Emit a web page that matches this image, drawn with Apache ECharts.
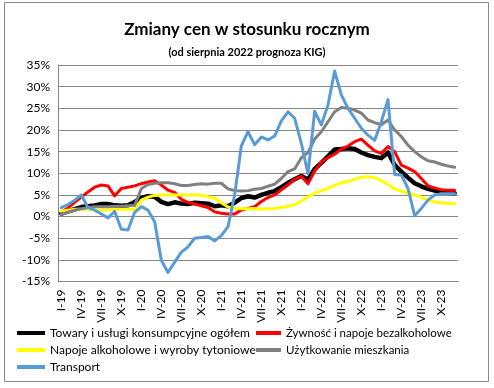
<!DOCTYPE html>
<html>
<head>
<meta charset="utf-8">
<script src="https://cdn.jsdelivr.net/npm/echarts@6/dist/echarts.min.js"></script>
<style>
html,body{margin:0;padding:0;background:#fff;}
#chart{width:494px;height:388px;}
</style>
</head>
<body>
<div id="chart"></div>
<script>
// Categories: monthly I-19 .. XII-23
const romans = ['I','II','III','IV','V','VI','VII','VIII','IX','X','XI','XII'];
const years = ['19','20','21','22','23'];
const categories = [];
years.forEach(y => romans.forEach(m => categories.push(m + '-' + y)));

const seriesNames = [
  'Towary i usługi konsumpcyjne ogółem',
  'Żywność i napoje bezalkoholowe',
  'Napoje alkoholowe i wyroby tytoniowe',
  'Użytkowanie mieszkania',
  'Transport'
];

const total = [
  0.7,1.2,1.7,2.2,2.4,2.6,2.9,2.9,2.6,2.5,2.6,3.4,
  4.3,4.7,4.6,3.4,2.9,3.3,3.0,2.9,3.2,3.1,3.0,2.4,
  2.6,2.4,3.2,4.3,4.7,4.4,5.0,5.5,5.9,6.8,7.8,8.6,
  9.4,8.5,11.0,12.4,13.9,15.5,15.6,15.8,15.6,14.8,14.2,13.8,
  13.5,14.8,11.9,10.4,9.0,7.7,7.0,6.4,6.0,5.7,5.5,5.4
];
const food = [
  1.1,2.0,3.3,4.5,5.7,6.8,7.3,7.1,4.8,6.5,6.8,7.1,
  7.6,8.0,8.3,7.3,6.1,5.6,4.0,3.3,2.9,2.5,2.1,1.1,
  0.8,0.6,0.6,1.5,1.9,2.3,3.5,4.4,5.0,6.2,7.3,8.6,
  9.3,7.6,10.5,12.6,13.6,14.4,15.6,16.3,17.3,17.9,16.5,15.2,
  14.6,16.2,15.0,11.9,11.2,10.4,8.8,7.1,6.6,6.2,6.1,6.1
];
const alcohol = [
  1.3,1.5,1.7,1.7,1.7,1.6,1.5,1.6,1.7,1.7,1.7,1.7,
  3.8,4.5,4.9,5.0,5.0,5.0,5.0,5.0,5.0,5.0,4.6,4.3,
  3.2,2.2,1.9,1.8,1.8,1.9,1.7,1.8,1.9,2.1,2.4,2.8,
  3.6,4.6,5.4,6.0,6.5,7.2,7.8,8.1,8.6,9.1,9.2,9.0,
  8.3,7.4,6.4,5.9,5.4,5.0,4.5,3.8,3.4,3.2,3.1,3.0
];
const housing = [
  0.5,1.0,1.5,1.8,2.1,2.3,2.3,2.3,2.4,2.4,2.5,2.6,
  6.5,7.4,7.7,7.8,7.8,7.6,7.2,7.2,7.4,7.6,7.5,7.7,
  7.7,6.4,6.0,5.9,6.0,6.3,6.5,7.0,7.5,8.8,10.4,11.0,
  13.6,14.8,17.9,19.6,21.9,24.2,25.2,25.0,24.6,23.9,22.3,21.7,
  21.2,22.3,20.0,18.5,16.5,15.0,13.8,12.9,12.6,12.1,11.7,11.4
];
const transport = [
  2.1,2.8,3.8,5.0,2.1,1.5,0.6,-0.3,1.2,-2.9,-3.1,1.0,
  2.3,1.5,-1.2,-10.1,-12.9,-10.5,-8.2,-7.0,-5.0,-4.8,-4.6,-5.6,
  -4.4,-2.3,5.0,16.3,19.6,16.6,18.4,17.7,18.6,22.1,24.2,22.7,
  16.9,9.9,24.3,21.2,25.8,33.6,28.1,25.0,22.7,20.4,18.8,17.6,
  21.9,27.0,9.7,9.6,6.5,0.2,1.9,3.8,5.0,5.3,5.3,5.3
];

const colors = ['#000000','#FF0000','#FFFF00','#808080','#5B9BD5'];
const widths = [4.5,3,3,3,3];
const dataSets = [total, food, alcohol, housing, transport];

const chart = echarts.init(document.getElementById('chart'), null, {renderer:'canvas'});
const font = 'Lato, "Liberation Sans", sans-serif';

const option = {
  backgroundColor: '#fff',
  animation: false,
  textStyle: {fontFamily: font},
  title: [
    {text: 'Zmiany cen w stosunku rocznym', left: 'center', top: 16,
     textStyle: {fontFamily: font, fontSize: 17, fontWeight: 'bold', color: '#000'}},
    {text: '(od sierpnia 2022 prognoza KIG)', left: 'center', top: 42,
     textStyle: {fontFamily: font, fontSize: 11, fontWeight: 'bold', color: '#000'}}
  ],
  graphic: [{
    type: 'rect', silent: true, z: -1,
    shape: {x: 4.5, y: 2.5, width: 484, height: 379},
    style: {fill: 'none', stroke: '#888', lineWidth: 1}
  }],
  grid: {left: 58, right: 36, top: 65, bottom: 106.4, containLabel: false},
  xAxis: {
    type: 'category', data: categories, boundaryGap: true,
    axisLine: {show: true, onZero: false, lineStyle: {color: '#868686'}},
    axisTick: {show: false},
    axisLabel: {interval: 2, rotate: 90, fontSize: 12, color: '#000', fontFamily: font, margin: 8}
  },
  yAxis: {
    type: 'value', min: -15, max: 35, interval: 5,
    axisLine: {show: true, lineStyle: {color: '#868686'}},
    axisTick: {show: false},
    splitLine: {lineStyle: {color: '#868686', width: 1}},
    axisLabel: {formatter: '{value}%', fontSize: 12, color: '#000', fontFamily: font, margin: 8}
  },
  legend: [
    {data: [seriesNames[0], seriesNames[2], seriesNames[4]], orient: 'vertical',
     left: 17, top: 326, itemWidth: 28, itemHeight: 4, itemGap: 3, icon: 'rect', padding: 0,
     textStyle: {fontSize: 12, color: '#000', fontFamily: font, lineHeight: 14}},
    {data: [seriesNames[1], seriesNames[3]], orient: 'vertical',
     left: 256, top: 326, itemWidth: 25, itemHeight: 4, itemGap: 3, icon: 'rect', padding: 0,
     textStyle: {fontSize: 11.5, color: '#000', fontFamily: font, lineHeight: 14}}
  ],
  series: seriesNames.map((n, k) => ({
    name: n, type: 'line', data: dataSets[k], symbol: 'none', showSymbol: false,
    lineStyle: {color: colors[k], width: widths[k], join: 'round', cap: 'round'},
    itemStyle: {color: colors[k]},
    z: 2 + k
  }))
};
chart.setOption(option);
</script>
</body>
</html>
